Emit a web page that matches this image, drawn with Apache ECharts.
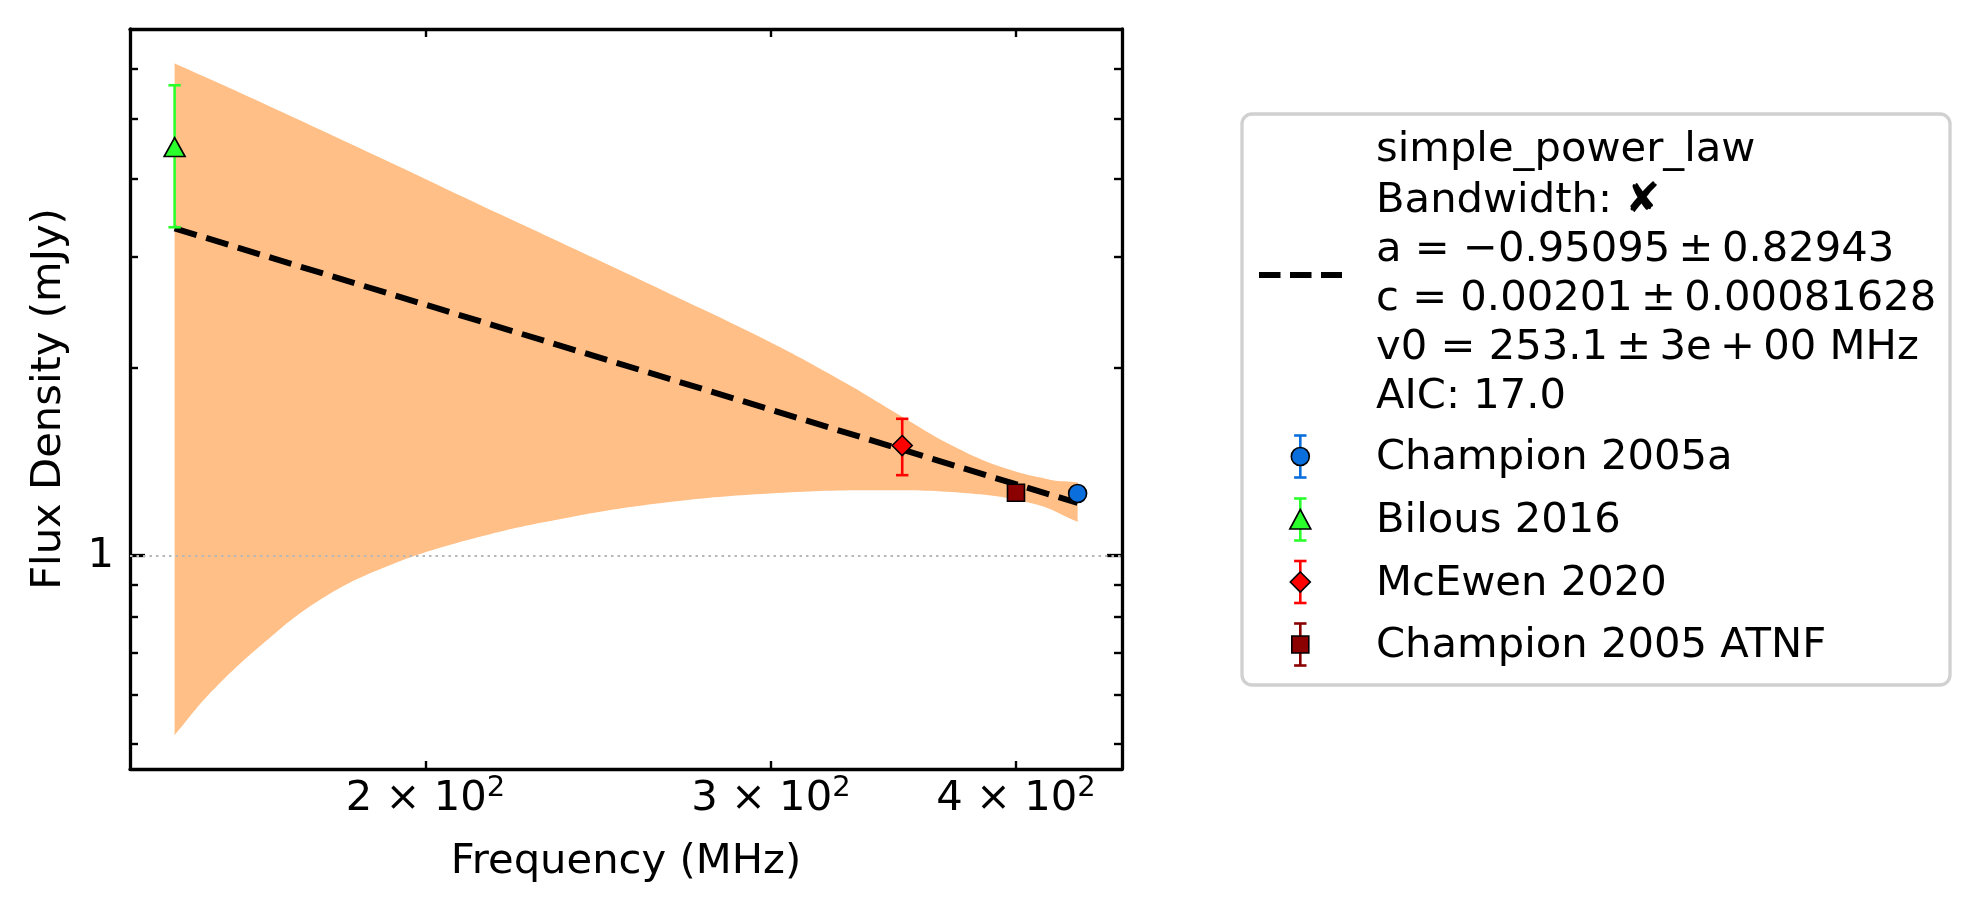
<!DOCTYPE html>
<html>
<head>
<meta charset="utf-8">
<title>simple_power_law fit</title>
<script src="https://cdn.jsdelivr.net/npm/echarts@6/dist/echarts.min.js"></script>
<style>
    html, body { margin: 0; padding: 0; background: #fff; }
    #chart { width: 1980px; height: 914px; }
</style>
</head>
<body>
<div id="chart"></div>
<script>
// measured points
const seriesNames = ['Champion 2005a', 'Bilous 2016', 'McEwen 2020', 'Champion 2005 ATNF'];
const freqMHz = [430, 149, 350, 400];
const fluxMJy = [1.257, 4.50, 1.50, 1.261];
const fluxErr = [0.03, 1.15, 0.155, 0.03];

// fitted power law (straight in log-log, read at both ends)
const fitFreq = [149, 430];
const fitFlux = [3.336, 1.214];

// uncertainty band edges
const bandUpperFreq = [149, 179.8, 218.9, 266.2, 300, 329.2, 349.1, 370.2, 392.5, 416.3, 430];
const bandUpperFlux = [6.12, 4.68, 3.50, 2.626, 2.192, 1.871, 1.675, 1.505, 1.388, 1.323, 1.309];
const bandLowerFreq = [149, 154.8, 164.9, 176.9, 191.4, 212.0, 236.7, 266.3, 299.5, 337.1, 379.3, 410.2, 430];
const bandLowerFlux = [0.517, 0.596, 0.719, 0.852, 0.963, 1.067, 1.151, 1.218, 1.257, 1.272, 1.257, 1.206, 1.133];

// ticks
const xTicks = [200, 300, 400];
const yMajorTicks = [1];
const yMinorTicks = [0.5, 0.6, 0.7, 0.8, 0.9, 2, 3, 4, 5, 6];

// legend text of the fit
const fitLabelLines = [
    'simple_power_law',
    'Bandwidth: \u2718',
    'a = \u22120.95095\u2009\u00b1\u20090.82943',
    'c = 0.00201\u2009\u00b1\u20090.00081628',
    'v0 = 253.1\u2009\u00b1\u20093e\u2009+\u200900 MHz',
    'AIC: 17.0'
];

const FONT = 'DejaVu Sans';
const FS = 41.7;
const colors = ['#0a6fdc', '#2bff2b', '#ff0000', '#8b0000'];
const symbols = ['circle', 'triangle', 'diamond', 'rect'];
const symbolSizes = [18, [21, 19], 20, 17];

const chart = echarts.init(document.getElementById('chart'));

function logAxisX(extra) {
    return Object.assign({
        type: 'log', logBase: 10, min: 141.4, max: 453,
        splitLine: { show: false },
        minorTick: { show: false },
        axisLine: { show: true, lineStyle: { color: '#000', width: 3.3 } },
        axisTick: { show: true, inside: true, length: 8, customValues: xTicks,
            lineStyle: { color: '#000', width: 2.4 } },
        axisLabel: { show: false }
    }, extra);
}

function logAxisY(extra) {
    return Object.assign({
        type: 'log', logBase: 10, min: 0.456, max: 6.95,
        splitLine: { show: false },
        minorTick: { show: false },
        axisLine: { show: false },
        axisTick: { show: false },
        axisLabel: { show: false }
    }, extra);
}

const tickMajor = { show: true, inside: true, length: 15, customValues: yMajorTicks,
    lineStyle: { color: '#000', width: 3.3 } };
const tickMinor = { show: true, inside: true, length: 8, customValues: yMinorTicks,
    lineStyle: { color: '#000', width: 2.4 } };
const spine = { show: true, lineStyle: { color: '#000', width: 3.3 } };

// band polygon, smoothed; short helper points keep the vertical ends square
const bandSeries = {
    type: 'custom',
    name: 'band',
    z: 1,
    silent: true,
    data: [[200, 1]],
    renderItem: function (params, api) {
        const up = bandUpperFreq.map((f, i) => api.coord([f, bandUpperFlux[i]]));
        const lo = bandLowerFreq.map((f, i) => api.coord([f, bandLowerFlux[i]]));
        const ul = up[0], ur = up[up.length - 1];
        const ll = lo[0], lr = lo[lo.length - 1];
        const pts = [[ul[0], ul[1] + 2]].concat(up, [[ur[0], ur[1] + 2], [lr[0], lr[1] - 2]],
            lo.slice().reverse(), [[ll[0], ll[1] - 2]]);
        return {
            type: 'polygon',
            shape: { points: pts, smooth: 0.4 },
            style: { fill: '#ffbf86' }
        };
    }
};

const fitSeries = {
    type: 'line',
    name: 'fit',
    z: 3,
    symbol: 'none',
    silent: true,
    data: fitFreq.map((f, i) => [f, fitFlux[i]]),
    lineStyle: { color: '#000', width: 6, type: [23, 10] },
    markLine: {
        silent: true,
        symbol: 'none',
        label: { show: false },
        lineStyle: { color: '#b8b8b8', width: 2.2, type: [2.5, 4] },
        data: [{ yAxis: 1 }]
    }
};

const errSeries = seriesNames.map((name, i) => ({
    type: 'custom',
    name: name + ' err',
    z: 4,
    silent: true,
    data: [[freqMHz[i], fluxMJy[i], fluxErr[i]]],
    renderItem: function (params, api) {
        const x = api.value(0), y = api.value(1), e = api.value(2);
        const top = api.coord([x, y + e]);
        const bot = api.coord([x, y - e]);
        const hw = 6.2;
        const st = { stroke: colors[i], lineWidth: 2.6 };
        return {
            type: 'group',
            children: [
                { type: 'line', shape: { x1: top[0], y1: top[1], x2: bot[0], y2: bot[1] }, style: st },
                { type: 'line', shape: { x1: top[0] - hw, y1: top[1], x2: top[0] + hw, y2: top[1] }, style: st },
                { type: 'line', shape: { x1: bot[0] - hw, y1: bot[1], x2: bot[0] + hw, y2: bot[1] }, style: st }
            ]
        };
    }
}));

const pointSeries = seriesNames.map((name, i) => ({
    type: 'scatter',
    name: name,
    z: 5,
    symbol: symbols[i],
    symbolSize: symbolSizes[i],
    data: [[freqMHz[i], fluxMJy[i]]],
    itemStyle: { color: colors[i], borderColor: '#000', borderWidth: 1.6, opacity: 1 }
}));

// legend box drawn by hand (error-bar handles)
const legendX = 1242, legendY = 114;
const graphics = [{
    type: 'rect',
    shape: { x: legendX, y: legendY, width: 708, height: 571, r: 10 },
    style: { fill: '#fff', stroke: '#d0d0d0', lineWidth: 3.3 },
    z: 10
}, {
    type: 'line',
    shape: { x1: 1259, y1: 275, x2: 1342, y2: 275 },
    style: { stroke: '#000', lineWidth: 6, lineDash: [21.5, 9.5] },
    z: 11
}];
fitLabelLines.forEach((t, k) => {
    graphics.push({
        type: 'text', z: 11,
        style: { text: t, x: 1376, y: 150.5 + k * 48.9 + (k === 0 ? 0 : 2), font: FS + 'px "' + FONT + '"',
            fill: '#000', align: 'left', verticalAlign: 'middle' }
    });
});
const entryY = [456.5, 519.5, 582, 644.5];
seriesNames.forEach((name, i) => {
    const cx = 1300.3, cy = entryY[i];
    const st = { stroke: colors[i], lineWidth: 2.6 };
    graphics.push({ type: 'line', z: 11, shape: { x1: cx, y1: cy - 21, x2: cx, y2: cy + 21 }, style: st });
    graphics.push({ type: 'line', z: 11, shape: { x1: cx - 6.2, y1: cy - 21, x2: cx + 6.2, y2: cy - 21 }, style: st });
    graphics.push({ type: 'line', z: 11, shape: { x1: cx - 6.2, y1: cy + 21, x2: cx + 6.2, y2: cy + 21 }, style: st });
    const ms = { fill: colors[i], stroke: '#000', lineWidth: 1.6 };
    let marker;
    if (symbols[i] === 'circle') {
        marker = { type: 'circle', shape: { cx: cx, cy: cy, r: 9 }, style: ms };
    } else if (symbols[i] === 'triangle') {
        marker = { type: 'polygon', shape: { points: [[cx, cy - 10], [cx - 10.5, cy + 9.5], [cx + 10.5, cy + 9.5]] }, style: ms };
    } else if (symbols[i] === 'diamond') {
        marker = { type: 'polygon', shape: { points: [[cx, cy - 10], [cx + 10, cy], [cx, cy + 10], [cx - 10, cy]] }, style: ms };
    } else {
        marker = { type: 'rect', shape: { x: cx - 8.5, y: cy - 8.5, width: 17, height: 17 }, style: ms };
    }
    marker.z = 12;
    graphics.push(marker);
    graphics.push({
        type: 'text', z: 11,
        style: { text: name, x: 1376, y: entryY[i] + 2, font: FS + 'px "' + FONT + '"',
            fill: '#000', align: 'left', verticalAlign: 'middle' }
    });
});

const option = {
    animation: false,
    backgroundColor: '#fff',
    textStyle: { fontFamily: FONT },
    grid: { left: 130, right: 858, top: 29, bottom: 145, containLabel: false, outerBoundsMode: 'none' },
    xAxis: [
        logAxisX({
            position: 'bottom',
            name: 'Frequency (MHz)',
            nameLocation: 'middle',
            nameGap: 72,
            nameTextStyle: { fontFamily: FONT, fontSize: FS, color: '#000' },
            axisLabel: {
                show: true,
                customValues: xTicks,
                margin: 9,
                formatter: function (v) {
                    return '{a|' + Math.round(v / 100) + ' \u00d7 10}{s|2}';
                },
                rich: {
                    a: { fontFamily: FONT, fontSize: FS, color: '#000', lineHeight: 42 },
                    s: { fontFamily: FONT, fontSize: 29, color: '#000', lineHeight: 29, padding: [0, 0, 22, 0] }
                }
            }
        }),
        logAxisX({ position: 'top' })
    ],
    yAxis: [
        logAxisY({
            position: 'left',
            name: 'Flux Density (mJy)',
            nameLocation: 'middle',
            nameGap: 60,
            nameTextStyle: { fontFamily: FONT, fontSize: FS, color: '#000' },
            axisLine: spine,
            axisTick: tickMajor,
            axisLabel: {
                show: true, customValues: yMajorTicks, margin: 16,
                fontFamily: FONT, fontSize: FS, color: '#000',
                formatter: function (v) { return String(Math.round(v)); }
            }
        }),
        logAxisY({ position: 'left', axisTick: tickMinor }),
        logAxisY({ position: 'right', axisLine: spine, axisTick: tickMajor }),
        logAxisY({ position: 'right', axisTick: tickMinor })
    ],
    series: [bandSeries, fitSeries].concat(errSeries, pointSeries),
    graphic: graphics
};

chart.setOption(option);
</script>
</body>
</html>
